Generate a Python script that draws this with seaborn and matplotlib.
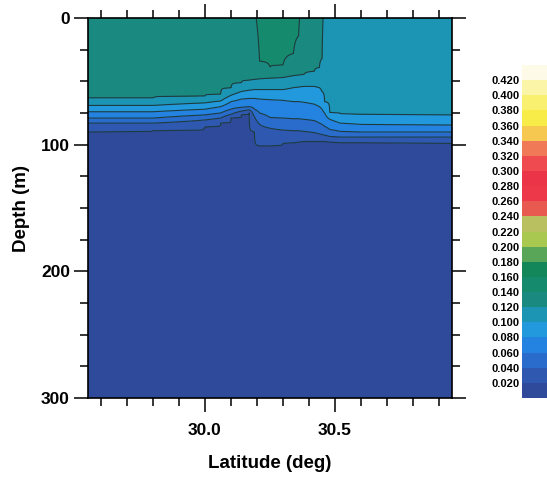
import numpy as np
import seaborn as sns
import matplotlib
matplotlib.use('Agg')
import matplotlib.pyplot as plt
from matplotlib.colors import ListedColormap, BoundaryNorm
from matplotlib.ticker import MultipleLocator, FormatStrFormatter
import matplotlib.cm as cm

sns.set_theme(style='ticks')
plt.rcParams['font.family'] = ['Liberation Sans', 'DejaVu Sans']
plt.rcParams['text.color'] = 'black'
plt.rcParams['xtick.color'] = 'black'
plt.rcParams['ytick.color'] = 'black'
plt.rcParams['axes.labelcolor'] = 'black'

# stations along the section (deg N)
lat = [29.55, 29.80, 30.00, 30.06, 30.10, 30.14, 30.17, 30.19, 30.21, 30.25, 30.30,
       30.34, 30.36, 30.38, 30.42, 30.44, 30.45, 30.46, 30.48, 30.52, 30.60, 30.95]
# value at the surface for each station
surface = [0.130, 0.130, 0.130, 0.130, 0.130, 0.131, 0.134, 0.137, 0.146, 0.150, 0.150,
           0.146, 0.141, 0.136, 0.131, 0.128, 0.124, 0.114, 0.112, 0.112, 0.112, 0.112]
bottom_value = 0.006
nan = np.nan
# depth (m) where each level is crossed at every station
depth_014 = [nan, nan, nan, nan, nan, nan, nan, nan, 34, 38.5, 37,
             28, 14, nan, nan, nan, nan, nan, nan, nan, nan, nan]
depth_012 = [63, 63, 61.5, 60, 55, 51, 49, 48.5, 48, 47.5, 47,
             45.5, 45, 44.5, 42, 39, 32, nan, nan, nan, nan, nan]
depth_010 = [69, 69, 67, 65.5, 61, 58, 57, 56.5, 56.5, 56.5, 56.5,
             55, 54.5, 54, 54, 55, 58, 66, 74.5, 75.5, 76, 76.5]
depth_008 = [74, 74, 72, 70, 66, 64, 63.5, 63.5, 64, 64.5, 65,
             66, 66, 66.5, 68, 70, 72, 75, 80, 83, 84, 84.5]
depth_006 = [79, 79, 76.5, 75, 72, 70.5, 70, 72, 75, 78.5, 79,
             79.5, 79.5, 80, 81, 83, 84, 85.5, 88, 89.5, 90, 90]
depth_004 = [83, 83, 80.5, 79, 76, 73.5, 72.5, 78, 84, 87, 88.5,
             89, 89, 89.5, 90.5, 91.5, 92, 92.5, 93.5, 94, 94, 94]
depth_002 = [90, 89, 86, 83, 79, 76.5, 75, 90, 101, 101, 99,
             98.5, 98, 97.5, 97.5, 97.5, 97.5, 97.5, 98, 98.5, 98.5, 99]

iso_levels = [0.14, 0.12, 0.10, 0.08, 0.06, 0.04, 0.02]
iso_depths = [depth_014, depth_012, depth_010, depth_008, depth_006, depth_004, depth_002]

# colour scale, 0.00 to 0.44 in steps of 0.02 (bottom to top)
bounds = np.round(np.arange(0, 0.4401, 0.02), 3)
band_colors = ['#2f4a9a', '#2f58b0', '#2a6ccc', '#2482e0', '#2299dd', '#1c95b5',
               '#1a8a80', '#168a6c', '#13875a', '#5aa658', '#a8c850', '#b8c060',
               '#e85a50', '#ec3848', '#ec3448', '#ee4a50', '#f07a58', '#f6c850',
               '#f8ec48', '#faf070', '#fbf5a8', '#fdfbe8']
cmap = ListedColormap(sns.color_palette(band_colors))
norm = BoundaryNorm(bounds, cmap.N)

depth_grid = np.arange(0, 300.5, 0.5)
Z = np.zeros((len(depth_grid), len(lat)))
for j in range(len(lat)):
    d = [0.0]
    v = [surface[j]]
    for lev, col in zip(iso_levels, iso_depths):
        if not np.isnan(col[j]):
            d.append(col[j])
            v.append(lev)
    d.append(300.0)
    v.append(bottom_value)
    Z[:, j] = np.interp(depth_grid, d, v)

fig = plt.figure(figsize=(5.47, 4.80), dpi=100)
ax = fig.add_axes([0.1609, 0.1708, 0.6654, 0.7917])
cax = fig.add_axes([0.9543, 0.1708, 0.0457, 0.6938])

ax.contourf(lat, depth_grid, Z, levels=bounds, cmap=cmap, norm=norm)
ax.contour(lat, depth_grid, Z, levels=iso_levels[::-1], colors='#1e3b40', linewidths=0.8)

ax.set_xlim(29.55, 30.95)
ax.set_ylim(300, 0)
ax.xaxis.set_major_locator(MultipleLocator(0.5))
ax.xaxis.set_minor_locator(MultipleLocator(0.1))
ax.xaxis.set_major_formatter(FormatStrFormatter('%.1f'))
ax.yaxis.set_major_locator(MultipleLocator(100))
ax.yaxis.set_minor_locator(MultipleLocator(25))
ax.tick_params(which='both', direction='out', top=True, right=True,
               labeltop=False, labelright=False, color='black', width=1.1)
ax.tick_params(which='major', length=10)
ax.tick_params(which='minor', length=5.5)
ax.tick_params(axis='x', which='major', pad=8)
ax.tick_params(axis='y', which='major', pad=3)
for lab in ax.get_xticklabels() + ax.get_yticklabels():
    lab.set_fontsize(12.5)
    lab.set_fontweight('bold')
    lab.set_color('black')
for sp in ax.spines.values():
    sp.set_linewidth(1.2)
    sp.set_color('black')

ax.set_xlabel('Latitude (deg)', fontsize=13.5, fontweight='bold', labelpad=12)
ax.set_ylabel('Depth (m)', fontsize=13.5, fontweight='bold', labelpad=8)

sm = cm.ScalarMappable(norm=norm, cmap=cmap)
cb = fig.colorbar(sm, cax=cax, boundaries=bounds, ticks=bounds[1:-1])
cb.outline.set_visible(False)
cax.minorticks_off()
cax.yaxis.set_ticks_position('left')
cax.yaxis.set_major_formatter(FormatStrFormatter('%.3f'))
cax.tick_params(which='both', length=0, pad=2)
for lab in cax.get_yticklabels():
    lab.set_fontsize(8)
    lab.set_fontweight('bold')
    lab.set_color('black')

fig.savefig('out.png', dpi=100)
